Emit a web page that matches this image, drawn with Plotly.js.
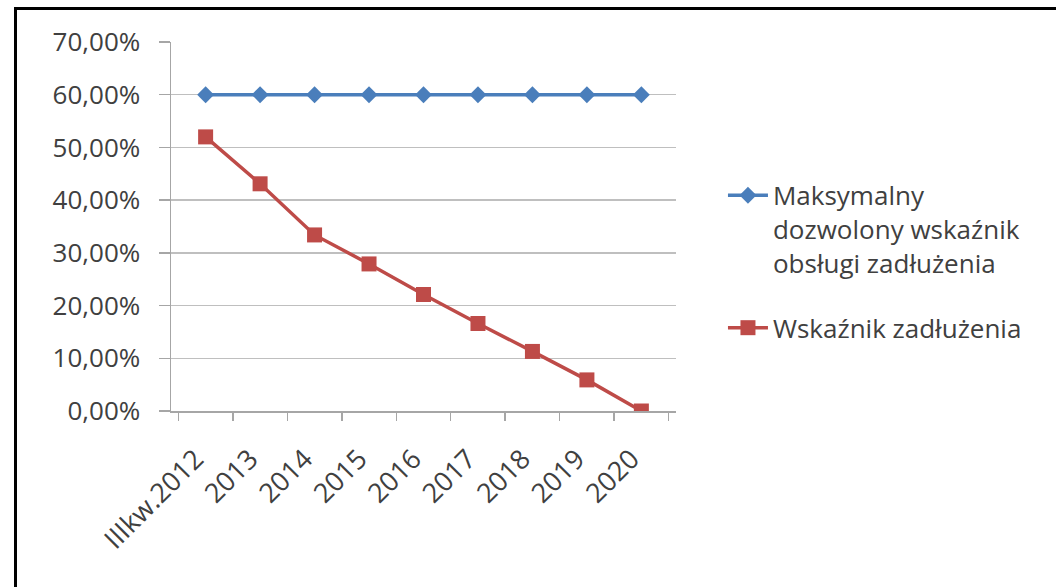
<!DOCTYPE html>
<html>
<head>
<meta charset="utf-8">
<script src="https://cdn.plot.ly/plotly-3.0.1.min.js"></script>
<style>
  html, body { margin: 0; padding: 0; background: #fff; }
  #wrap { position: relative; width: 1056px; height: 587px; overflow: hidden; }
  #chart { position: absolute; left: 0; top: 0; width: 1056px; height: 587px; }
  #frame { position: absolute; left: 14px; top: 7px; right: -10px; bottom: -10px;
           border-top: 3px solid #000; border-left: 3px solid #000; pointer-events: none; }
</style>
</head>
<body>
<div id="wrap">
  <div id="chart"></div>
  <div id="frame"></div>
</div>
<script>
// Okresy prognozy
const okresy = ['IIIkw.2012', '2013', '2014', '2015', '2016', '2017', '2018', '2019', '2020'];

// Maksymalny dozwolony wskaźnik obsługi zadłużenia (%)
const wskaznikMaksymalny = [60, 60, 60, 60, 60, 60, 60, 60, 60];

// Wskaźnik zadłużenia (%)
const wskaznikZadluzenia = [52.0, 43.1, 33.4, 27.9, 22.1, 16.6, 11.3, 5.9, 0];

const nazwaMaks = 'Maksymalny<br>dozwolony wskaźnik<br>obsługi zadłużenia';
const nazwaZadl = 'Wskaźnik zadłużenia';

const font = 'Open Sans, Lato, DejaVu Sans, sans-serif';
const tekst = '#404040';

const traces = [
  {
    x: okresy, y: wskaznikMaksymalny, name: nazwaMaks, legendgroup: 'maks',
    type: 'scatter', mode: 'lines+markers',
    line: { color: '#4a7ebb', width: 3.5 },
    marker: { symbol: 'diamond', size: 13, color: '#4a7ebb' }
  },
  {
    x: okresy, y: wskaznikZadluzenia, name: nazwaZadl, legendgroup: 'zadl',
    type: 'scatter', mode: 'lines+markers',
    line: { color: '#be4b48', width: 3.5 },
    marker: { symbol: 'square', size: 15, color: '#be4b48' }
  }
];

const layout = {
  width: 1056, height: 587,
  margin: { l: 171, r: 380, t: 42, b: 176, pad: 0 },
  paper_bgcolor: '#fff', plot_bgcolor: '#fff',
  separators: ', ',
  font: { family: font, color: tekst },
  showlegend: true,
  legend: {
    x: 1.093, xanchor: 'left', y: 0.648, yanchor: 'top',
    font: { family: font, size: 26, color: tekst },
    valign: 'top', itemwidth: 40, tracegroupgap: 28,
    bgcolor: 'rgba(0,0,0,0)'
  },
  xaxis: {
    type: 'category',
    tickson: 'boundaries',
    ticks: 'outside', ticklen: 8, tickwidth: 1.5, tickcolor: '#a6a6a6',
    showline: true, linecolor: '#a6a6a6', linewidth: 1.5,
    showgrid: false, zeroline: false,
    tickangle: -45, ticklabelstandoff: 20, ticklabelshift: -10,
    tickfont: { family: font, size: 27, color: tekst },
    fixedrange: true
  },
  yaxis: {
    range: [0, 70], dtick: 10, tick0: 0,
    tickformat: '.2f', ticksuffix: '%',
    ticks: 'outside', ticklen: 11, tickwidth: 1.5, tickcolor: '#a6a6a6',
    showline: true, linecolor: '#a6a6a6', linewidth: 1.5,
    showgrid: true, gridcolor: '#bfbfbf', gridwidth: 1.5,
    zeroline: false, ticklabelstandoff: 13,
    tickfont: { family: font, size: 26, color: tekst },
    fixedrange: true
  }
};

Plotly.newPlot('chart', traces, layout, { displayModeBar: false, staticPlot: true });
</script>
</body>
</html>
